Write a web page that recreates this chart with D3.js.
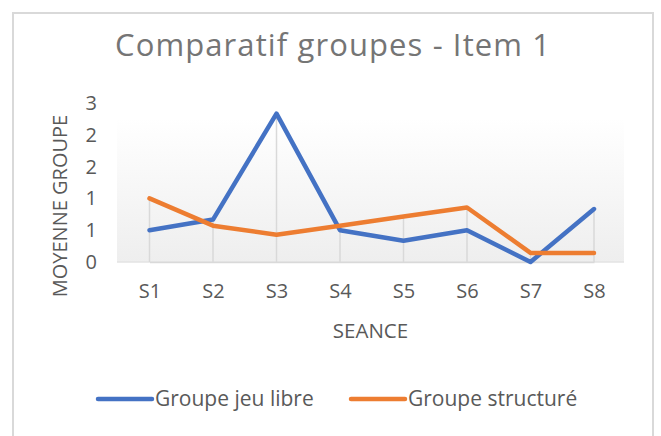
<!DOCTYPE html>
<html><head><meta charset="utf-8">
<script src="https://cdn.jsdelivr.net/npm/d3@7"></script>
<style>body{margin:0;background:#fff;} svg{display:block;}</style>
</head><body>
<script>
const categories = ["S1","S2","S3","S4","S5","S6","S7","S8"];
const jeuLibre   = [0.5, 0.667, 2.333, 0.5, 0.333, 0.5, 0, 0.833];
const structure  = [1.0, 0.571, 0.429, 0.571, 0.714, 0.857, 0.143, 0.143];
const yTicks = [0, 0.5, 1, 1.5, 2, 2.5];
const seriesNames = ["Groupe jeu libre", "Groupe structuré"];
const colors = ["#4472C4", "#ED7D31"];

const W = 661, H = 436;
const svg = d3.select("body").append("svg").attr("width", W).attr("height", H);
const font = "'Open Sans', sans-serif";

// chart border
svg.append("rect").attr("x", 13).attr("y", 13).attr("width", 640).attr("height", 440)
  .attr("fill", "#fff").attr("stroke", "#d9d9d9").attr("stroke-width", 2);

// plot area gradient
const defs = svg.append("defs");
const grad = defs.append("linearGradient").attr("id", "pg").attr("x1", 0).attr("y1", 0).attr("x2", 0).attr("y2", 1);
grad.append("stop").attr("offset", "0%").attr("stop-color", "#ffffff");
grad.append("stop").attr("offset", "100%").attr("stop-color", "#eeeeee");

const plot = {left: 117, right: 624, top: 118, bottom: 262};
svg.append("rect").attr("x", plot.left).attr("y", plot.top)
  .attr("width", plot.right - plot.left).attr("height", plot.bottom - plot.top)
  .attr("fill", "url(#pg)");

const x = d3.scalePoint().domain(categories).range([149.5, 594]);
const y = d3.scaleLinear().domain([0, 2.5]).range([262, 103]);

// bottom border of plot area
svg.append("line").attr("x1", plot.left).attr("x2", plot.right)
  .attr("y1", y(0)).attr("y2", y(0)).attr("stroke", "#e3e3e3").attr("stroke-width", 1.5);

// drop lines
const maxVals = categories.map((c, i) => Math.max(jeuLibre[i], structure[i]));
svg.append("g").selectAll("line").data(categories).join("line")
  .attr("x1", d => x(d)).attr("x2", d => x(d))
  .attr("y1", (d, i) => y(maxVals[i])).attr("y2", y(0))
  .attr("stroke", "#d9d9d9").attr("stroke-width", 1.5);

// x axis
const xAxis = svg.append("g").attr("transform", `translate(0,${y(0)})`)
  .call(d3.axisBottom(x).tickSize(0).tickPadding(22));
xAxis.select(".domain").attr("stroke", "#d9d9d9").attr("stroke-width", 1.5);
xAxis.selectAll("text").attr("font-family", font).attr("font-size", 20).attr("fill", "#595959");

// y axis
const yAxis = svg.append("g").attr("transform", `translate(97,0)`)
  .call(d3.axisLeft(y).tickValues(yTicks).tickSize(0).tickPadding(0).tickFormat(d => d3.format(".0f")(d + 1e-9)));
yAxis.select(".domain").remove();
yAxis.selectAll("text").attr("font-family", font).attr("font-size", 20).attr("fill", "#595959");

// lines
const line = d3.line().x((d, i) => x(categories[i])).y(d => y(d));
[jeuLibre, structure].forEach((s, k) => {
  svg.append("path").datum(s).attr("d", line).attr("fill", "none")
    .attr("stroke", colors[k]).attr("stroke-width", 4.5)
    .attr("stroke-linejoin", "round").attr("stroke-linecap", "round");
});

// title
svg.append("text").attr("x", 115).attr("y", 56)
  .attr("font-family", font).attr("font-size", 31).attr("fill", "#757575")
  .attr("textLength", 435).attr("lengthAdjust", "spacing")
  .text("Comparatif groupes - Item 1");

// axis titles
svg.append("text").attr("x", 370.5).attr("y", 338).attr("text-anchor", "middle")
  .attr("font-family", font).attr("font-size", 20.5).attr("fill", "#595959").text("SEANCE");
svg.append("text").attr("transform", "translate(67,206) rotate(-90)").attr("text-anchor", "middle")
  .attr("font-family", font).attr("font-size", 20).attr("fill", "#595959").text("MOYENNE GROUPE");

// legend
const legX = [98, 351];
seriesNames.forEach((n, k) => {
  svg.append("line").attr("x1", legX[k]).attr("x2", legX[k] + 54).attr("y1", 399).attr("y2", 399)
    .attr("stroke", colors[k]).attr("stroke-width", 4.5).attr("stroke-linecap", "round");
  svg.append("text").attr("x", legX[k] + 57).attr("y", 406)
    .attr("font-family", font).attr("font-size", 21).attr("fill", "#595959").text(n);
});
</script>
</body></html>
